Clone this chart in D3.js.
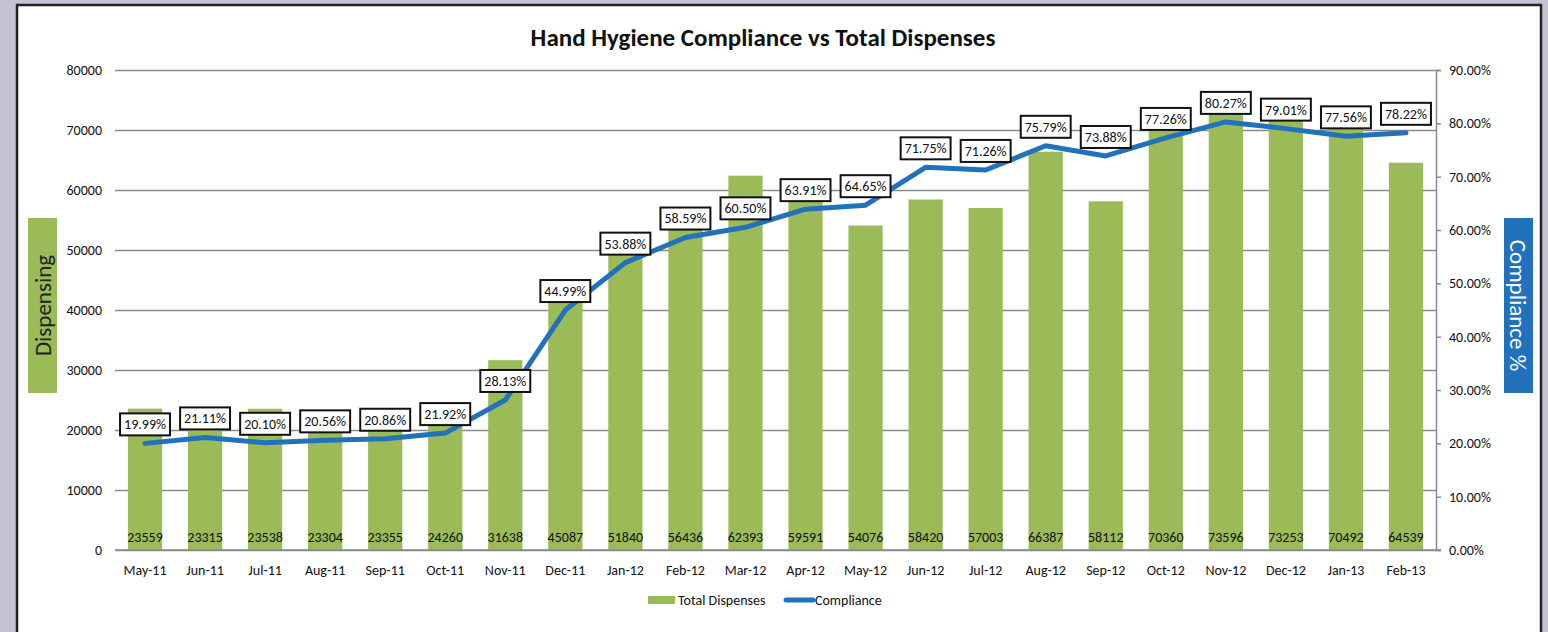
<!DOCTYPE html>
<html>
<head>
<meta charset="utf-8">
<script src="https://cdn.jsdelivr.net/npm/d3@7"></script>
<style>
  body { margin: 0; background: #c4c3d3; }
  svg text { font-family: Carlito, Lato, "Open Sans", sans-serif; }
</style>
</head>
<body>
<script>
var months = ["May-11","Jun-11","Jul-11","Aug-11","Sep-11","Oct-11","Nov-11","Dec-11",
  "Jan-12","Feb-12","Mar-12","Apr-12","May-12","Jun-12","Jul-12","Aug-12","Sep-12",
  "Oct-12","Nov-12","Dec-12","Jan-13","Feb-13"];
var dispenses = [23559,23315,23538,23304,23355,24260,31638,45087,51840,56436,62393,
  59591,54076,58420,57003,66387,58112,70360,73596,73253,70492,64539];
var compliance = [19.99,21.11,20.10,20.56,20.86,21.92,28.13,44.99,53.88,58.59,60.50,
  63.91,64.65,71.75,71.26,75.79,73.88,77.26,80.27,79.01,77.56,78.22];
var leftTicks = [0,10000,20000,30000,40000,50000,60000,70000,80000];
var rightTicks = [0,10,20,30,40,50,60,70,80,90];

var w = 1548;
var h = 632;
var green = "#9bbb59";
var blue = "#2171bb";
var fs = "14px";

var svg = d3.select("body")
  .append("svg")
  .attr("width", w)
  .attr("height", h)
  .style("display", "block");

// white panel with dark frame
svg.append("rect")
  .attr("x", 17).attr("y", 5)
  .attr("width", 1524).attr("height", 660)
  .attr("fill", "white")
  .attr("stroke", "#222")
  .attr("stroke-width", 2.5);

var x0 = 115, x1 = 1436, y0 = 550, y1 = 70;

var x = d3.scaleBand()
  .domain(months)
  .range([x0, x1])
  .paddingInner(0.43)
  .paddingOuter(0.215);

var yL = d3.scaleLinear().domain([0, 80000]).range([y0, y1]);
var yR = d3.scaleLinear().domain([0, 90]).range([y0, y1]);

// gridlines
svg.append("g")
  .attr("transform", "translate(" + x0 + ",0)")
  .call(d3.axisLeft(yL).tickValues(leftTicks).tickSize(-(x1 - x0)).tickFormat(""))
  .call(function(g) { g.select(".domain").remove(); })
  .selectAll("line")
  .attr("stroke", "#8a8a8a")
  .attr("stroke-width", 1.5);

// left tick labels
var la = svg.append("g")
  .attr("transform", "translate(" + (x0 - 13) + ",0)")
  .call(d3.axisLeft(yL).tickValues(leftTicks).tickSize(0).tickPadding(0).tickFormat(d3.format("d")));
la.select(".domain").remove();
la.selectAll("text").attr("font-size", fs).attr("fill", "#111")
  .style("font-family", "Carlito, Lato, sans-serif");

// right axis
var ra = svg.append("g")
  .attr("transform", "translate(" + x1 + ",0)")
  .call(d3.axisRight(yR).tickValues(rightTicks).tickSize(5).tickPadding(8)
    .tickFormat(function(d) { return d.toFixed(2) + "%"; }));
ra.select(".domain").attr("stroke", "#8a8a8a").attr("stroke-width", 1.5);
ra.selectAll("line").attr("stroke", "#8a8a8a").attr("stroke-width", 1.5);
ra.selectAll("text").attr("font-size", fs).attr("fill", "#111")
  .style("font-family", "Carlito, Lato, sans-serif");

// bars
svg.selectAll("rect.bar")
  .data(dispenses)
  .enter()
  .append("rect")
  .attr("class", "bar")
  .attr("x", function(d, i) { return x(months[i]); })
  .attr("y", function(d) { return yL(d); })
  .attr("width", x.bandwidth())
  .attr("height", function(d) { return y0 - yL(d); })
  .attr("fill", green);

// bottom axis line
var ba = svg.append("g")
  .attr("transform", "translate(0," + y0 + ")")
  .call(d3.axisBottom(x).tickSize(0).tickPadding(15));
ba.select(".domain").attr("stroke", "#8a8a8a").attr("stroke-width", 1.5)
  .attr("d", "M" + x0 + ",0H" + (x1 + 5));
ba.selectAll("text").attr("font-size", fs).attr("fill", "#111")
  .style("font-family", "Carlito, Lato, sans-serif");

// bar value labels
svg.selectAll("text.barlab")
  .data(dispenses)
  .enter()
  .append("text")
  .attr("class", "barlab")
  .text(function(d) { return d; })
  .attr("x", function(d, i) { return x(months[i]) + x.bandwidth() / 2; })
  .attr("y", 542)
  .attr("text-anchor", "middle")
  .attr("font-size", fs)
  .attr("fill", "#111");

// compliance line
var line = d3.line()
  .x(function(d, i) { return x(months[i]) + x.bandwidth() / 2; })
  .y(function(d) { return yR(d); });

svg.append("path")
  .datum(compliance)
  .attr("d", line)
  .attr("fill", "none")
  .attr("stroke", blue)
  .attr("stroke-width", 5)
  .attr("stroke-linejoin", "round")
  .attr("stroke-linecap", "round");

// line labels in boxes
var labs = svg.selectAll("g.clab")
  .data(compliance)
  .enter()
  .append("g")
  .attr("class", "clab")
  .attr("transform", function(d, i) {
    return "translate(" + (x(months[i]) + x.bandwidth() / 2) + "," + (yR(d) - 19) + ")";
  });

labs.append("rect").attr("fill", "white").attr("stroke", "#111").attr("stroke-width", 2);
labs.append("text")
  .text(function(d) { return d.toFixed(2) + "%"; })
  .attr("text-anchor", "middle")
  .attr("dy", "0.35em")
  .attr("font-size", fs)
  .attr("fill", "#111");
labs.each(function() {
  var g = d3.select(this);
  var tw = g.select("text").node().getComputedTextLength();
  g.select("rect")
    .attr("x", -tw / 2 - 4)
    .attr("y", -11)
    .attr("width", tw + 8)
    .attr("height", 22);
});

// title
svg.append("text")
  .text("Hand Hygiene Compliance vs Total Dispenses")
  .attr("x", 763)
  .attr("y", 46)
  .attr("text-anchor", "middle")
  .attr("font-size", "25px")
  .attr("font-weight", "bold")
  .attr("fill", "#111");

// left axis title
svg.append("rect")
  .attr("x", 28).attr("y", 218).attr("width", 29).attr("height", 175)
  .attr("fill", green);
svg.append("text")
  .text("Dispensing")
  .attr("transform", "translate(43,305.5) rotate(-90)")
  .attr("text-anchor", "middle")
  .attr("dy", "0.35em")
  .attr("font-size", "23px")
  .attr("fill", "#222");

// right axis title
svg.append("rect")
  .attr("x", 1504).attr("y", 218).attr("width", 29).attr("height", 175)
  .attr("fill", blue);
svg.append("text")
  .text("Compliance %")
  .attr("transform", "translate(1518.5,305.5) rotate(90)")
  .attr("text-anchor", "middle")
  .attr("dy", "0.35em")
  .attr("font-size", "23px")
  .attr("fill", "white");

// legend
svg.append("rect")
  .attr("x", 648).attr("y", 596).attr("width", 27).attr("height", 8)
  .attr("fill", green);
svg.append("text")
  .text("Total Dispenses")
  .attr("x", 678).attr("y", 600).attr("dy", "0.35em")
  .attr("font-size", fs).attr("fill", "#111");
svg.append("line")
  .attr("x1", 786).attr("x2", 813).attr("y1", 600).attr("y2", 600)
  .attr("stroke", blue).attr("stroke-width", 5).attr("stroke-linecap", "round");
svg.append("text")
  .text("Compliance")
  .attr("x", 815).attr("y", 600).attr("dy", "0.35em")
  .attr("font-size", fs).attr("fill", "#111");
</script>
</body>
</html>
